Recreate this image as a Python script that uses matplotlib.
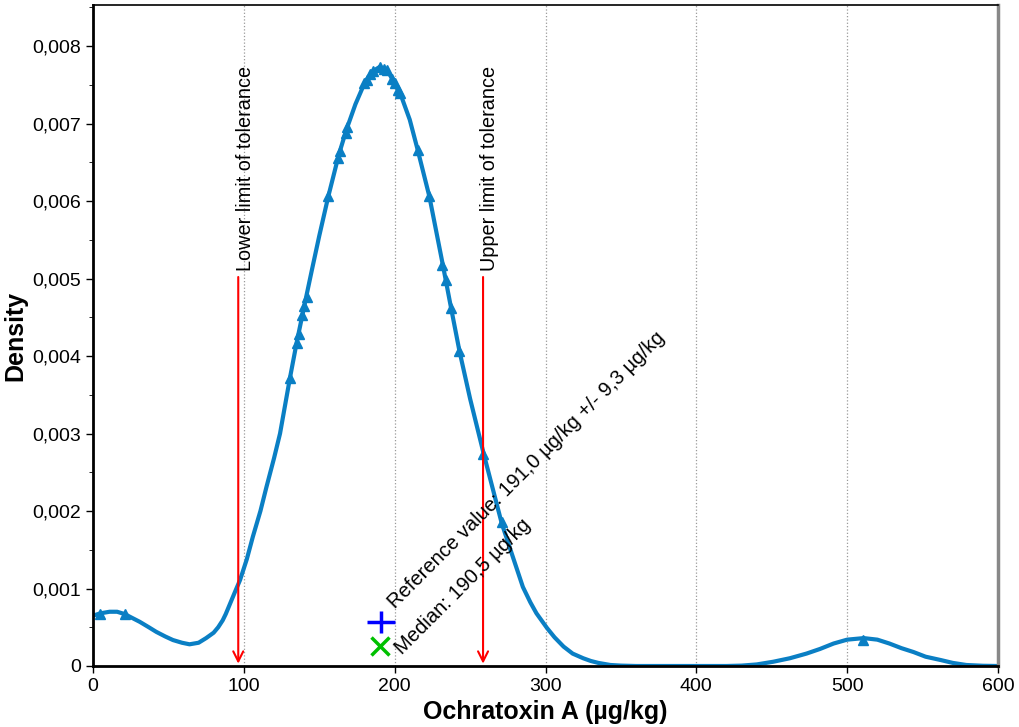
import matplotlib
matplotlib.use("Agg")
import matplotlib.pyplot as plt
from matplotlib.ticker import FuncFormatter, MultipleLocator

plt.rcParams['font.family'] = ['Liberation Sans', 'DejaVu Sans']

# density curve (x in µg/kg, y in 1e-3)
curve_x = [0, 5, 11, 16, 21, 26, 31, 37, 42, 48, 53, 59, 64, 70, 75, 80, 83, 86,
           88, 91, 94, 97.5, 102, 106, 111, 115, 120, 124, 130.6, 135, 140, 145,
           150, 156, 163, 168, 174, 180, 185, 190, 195, 200, 203.5, 210, 215, 223,
           232, 237, 243, 250, 259, 265, 271, 279, 285, 290, 294, 301, 306, 312,
           318, 325, 330, 335, 343, 350, 360, 380, 400, 420, 430, 440, 451, 462,
           473, 482, 491, 500, 511, 520, 528, 536, 544, 552, 562, 570, 579, 590, 600]
curve_y = [0.65, 0.68, 0.70, 0.70, 0.67, 0.62, 0.57, 0.50, 0.44, 0.38, 0.335, 0.30,
           0.28, 0.30, 0.36, 0.43, 0.50, 0.59, 0.67, 0.81, 0.95, 1.11, 1.38, 1.67,
           2.0, 2.31, 2.68, 3.00, 3.72, 4.17, 4.64, 5.10, 5.55, 6.06, 6.60, 6.92,
           7.25, 7.52, 7.67, 7.73, 7.69, 7.52, 7.40, 7.05, 6.68, 6.06, 5.17, 4.66,
           4.06, 3.45, 2.74, 2.29, 1.84, 1.37, 1.02, 0.82, 0.68, 0.49, 0.37, 0.25,
           0.16, 0.10, 0.065, 0.04, 0.013, 0.005, 0.0, 0.0, 0.0, 0.0, 0.005, 0.02,
           0.055, 0.10, 0.16, 0.22, 0.29, 0.34, 0.36, 0.34, 0.29, 0.23, 0.18, 0.12,
           0.077, 0.04, 0.013, 0.003, 0.0]

# lab results (markers on the curve)
res_x = [4.6, 21.2, 130.6, 135.1, 136.6, 138.8, 139.9, 141.7, 156.0, 162.6, 163.8,
         167.7, 168.2, 179.9, 181.5, 183.7, 185.8, 190.3, 193.1, 195.1, 198.0,
         200.2, 202.4, 203.5, 215.3, 223.0, 231.6, 233.8, 237.4, 242.9, 258.8,
         271.0, 510.5]
res_y = [0.67, 0.67, 3.72, 4.17, 4.29, 4.53, 4.64, 4.76, 6.06, 6.55, 6.64, 6.88,
         6.95, 7.52, 7.56, 7.64, 7.68, 7.73, 7.71, 7.69, 7.57, 7.52, 7.43, 7.40,
         6.66, 6.06, 5.17, 4.98, 4.62, 4.06, 2.74, 1.86, 0.34]

lower_limit = 96.3
upper_limit = 258.6
ref_value = 191.0
ref_unc = 9.3
median = 190.5

curve_y = [v / 1000 for v in curve_y]
res_y = [v / 1000 for v in res_y]

blue = '#0a7fc4'
fig = plt.figure(figsize=(10.19, 7.27), dpi=100)
ax = fig.add_axes([93 / 1019, 1 - 666 / 727, 905 / 1019, 661 / 727])

ax.plot(curve_x, curve_y, color=blue, lw=3, solid_joinstyle='round')
ax.plot(res_x, res_y, '^', color=blue, ms=6.5, ls='none')

# tolerance limits
for xv, label in [(lower_limit, 'Lower limit of tolerance'),
                  (upper_limit, 'Upper limit of tolerance')]:
    ax.annotate('', xy=(xv, 0.00003), xytext=(xv, 0.00502),
                arrowprops=dict(arrowstyle='->', color='red', lw=1.5,
                                mutation_scale=18, shrinkA=0, shrinkB=0))
    ax.text(xv + 4.5, 0.00510, label, rotation=90, ha='center', va='bottom',
            fontsize=14.3)

# reference value and median
ax.errorbar([ref_value], [0.00057], xerr=[ref_unc], fmt='|', color='#0000ff',
            ms=16, mew=2.5, elinewidth=2.5, capsize=0)
ax.plot([median], [0.00026], 'x', color='#00c000', ms=13, mew=2.5)
ax.annotate('Reference value: 191,0 µg/kg +/- 9,3 µg/kg', xy=(ref_value, 0.00057),
            xytext=(10, 9), textcoords='offset points', rotation=45,
            rotation_mode='anchor', ha='left', va='baseline', fontsize=14.5)
ax.annotate('Median: 190,5 µg/kg', xy=(median, 0.00026),
            xytext=(16, -7), textcoords='offset points', rotation=45,
            rotation_mode='anchor', ha='left', va='baseline', fontsize=14.5)

ax.set_xlim(0, 600)
ax.set_ylim(0, 0.00853)
ax.xaxis.set_major_locator(MultipleLocator(100))
ax.yaxis.set_major_locator(MultipleLocator(0.001))
ax.yaxis.set_minor_locator(MultipleLocator(0.0005))
ax.yaxis.set_major_formatter(FuncFormatter(
    lambda v, p: '0' if abs(v) < 1e-9 else ('%.3f' % v).replace('.', ',')))
ax.tick_params(labelsize=14, length=5, width=1)
ax.tick_params(axis='y', which='minor', length=3)
ax.grid(axis='x', color='#999999', ls=':', lw=0.9)

for s in ['left', 'bottom']:
    ax.spines[s].set_linewidth(2)
ax.spines['top'].set_linewidth(1.2)
ax.spines['right'].set_color('#888888')
ax.spines['right'].set_linewidth(2.5)

ax.set_xlabel('Ochratoxin A (µg/kg)', fontsize=18, fontweight='bold', labelpad=4)
ax.set_ylabel('Density', fontsize=18, fontweight='bold')
ax.yaxis.set_label_coords(-0.072, 0.5)

fig.savefig('out.png', dpi=100)
